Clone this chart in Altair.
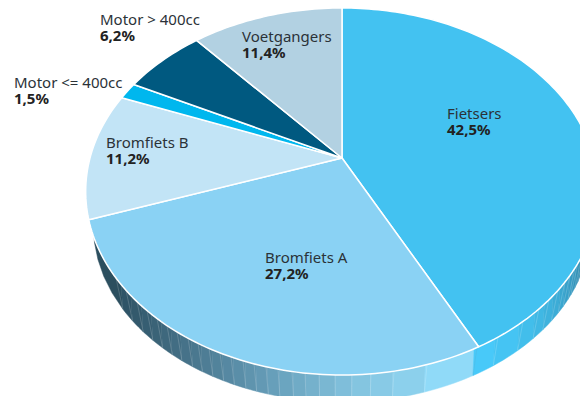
import math
import altair as alt
import numpy as np

# --- chart values -----------------------------------------------------------
categories = ["Fietsers", "Bromfiets A", "Bromfiets B", "Motor <= 400cc", "Motor > 400cc", "Voetgangers"]
shares = [42.5, 27.2, 11.2, 1.5, 6.2, 11.4]
share_labels = ["42,5%", "27,2%", "11,2%", "1,5%", "6,2%", "11,4%"]
colors = ["#43C2F1", "#8AD2F4", "#C2E4F6", "#00B7EE", "#005980", "#B2D1E2"]

# --- layout -----------------------------------------------------------------
label_x = [447, 265, 106, 14, 100, 242]
label_y = [119, 263, 148, 88, 25, 42]
LINE = 16
PAGE = 8  # page margin
CX, CY = 342, 158  # where the slices meet
A, B, K = 252, 177.4, -0.1826  # perspective of the top face
EX, EY = 191.5, 226  # centres of top and bottom outlines
SX, SY = 0.97, 0.959  # bottom outline relative to the top one

# rim facets: x on the top edge where each facet ends, and its colour
rim_stops_x = [116, 126, 137, 147, 157, 167, 177, 188, 198, 209, 220, 231, 243, 254, 266,
               278, 292, 305, 319, 335, 352, 371, 394, 427, 477,
               498, 523, 539, 549, 558, 565, 570, 575, 578, 582, 585]
rim_colors = ["#2c4f5f", "#2f5467", "#33596c", "#365e72", "#3a6377", "#3e687d", "#426d83",
              "#467289", "#4a788f", "#4e7d95", "#52839b", "#5688a2", "#5a8ea8", "#5f94ae",
              "#6399b4", "#679fba", "#6ba5c0", "#70abc6", "#75b1cc", "#7ab7d2", "#7fbeda",
              "#84c5e0", "#88cae6", "#8cd0ec", "#90daf8",
              "#48c9f9", "#45c4f3", "#42beeb", "#40b8e4", "#3eb2dd", "#3cacd6", "#3aa7d0",
              "#38a1ca", "#369cc4", "#3597be", "#3392b8", "#318db2"]
THETA_RIGHT, THETA_LEFT = 100.5, 259.5


def top(theta):
    """Page position of a point of the top face's outline; theta clockwise from 12 o'clock."""
    t = math.radians(theta)
    u, v = math.sin(t), -math.cos(t)
    w = 1 + K * v
    return CX + A * u / w, CY + B * v / w


def bottom(theta):
    x, y = top(theta)
    return CX + (x - CX) * SX, EY + (y - EX) * SY


def chart_xy(p):
    return [round(p[0] - PAGE, 2), round(p[1] - PAGE, 2)]


def feature(kind, coords, color):
    return {"type": "Feature", "properties": {"color": color},
            "geometry": {"type": kind, "coordinates": coords}}


# top face slices, from the shares
wedges = []
start = 0.0
for share, color in zip(shares, colors):
    end = start + share * 3.6
    n = max(3, int(share * 3))
    ring = [chart_xy((CX, CY))] + [chart_xy(top(a)) for a in np.linspace(start, end, n)] + [chart_xy((CX, CY))]
    wedges.append(feature("Polygon", [ring], color))
    start = end

# rim facets
grid = np.linspace(THETA_RIGHT, THETA_LEFT, 3000)
grid_x = np.array([top(a)[0] for a in grid])  # decreasing from right to left
stop_thetas = [float(np.interp(-x, -grid_x, grid)) for x in rim_stops_x]
edges = [THETA_LEFT] + stop_thetas + [THETA_RIGHT]
rim = []
stripes = []
for i, color in enumerate(rim_colors):
    a, b = edges[i], edges[i + 1]
    angles = np.linspace(a, b, 6)
    lower = [chart_xy(bottom(t)) for t in angles]
    upper = []
    for t in angles[::-1]:
        x, y = top(t)
        upper.append(chart_xy((x + (CX - x) * 0.02, y + (CY - y) * 0.02)))
    rim.append(feature("Polygon", [lower + upper + [lower[0]]], color))
for x, t in zip(rim_stops_x, stop_thetas):
    seg = [chart_xy(top(t)), chart_xy(bottom(t))]
    stripes.append(feature("LineString", seg, "#5f97b3" if x == 477 else "#ffffff"))

projection = alt.Projection(type="identity", scale=1, translate=[0, 0])


def geo(features):
    return alt.Chart(alt.InlineData(values=features, format=alt.DataFormat(type="json")))


fill = alt.Color("properties.color:N", scale=None)
stroke = alt.Stroke("properties.color:N", scale=None)

rim_layer = geo(rim).mark_geoshape(strokeWidth=0.5).encode(color=fill, stroke=stroke).project(**projection.to_dict())
stripe_layer = geo(stripes).mark_geoshape(filled=False, strokeWidth=0.7, strokeOpacity=0.25).encode(
    stroke=stroke).project(**projection.to_dict())
wedge_layer = geo(wedges).mark_geoshape(stroke="#ffffff", strokeWidth=1.5, strokeJoin="round").encode(
    color=fill).project(**projection.to_dict())

names = alt.Chart(alt.Data(values=[
    {"t": c, "x": x - PAGE, "y": y - PAGE} for c, x, y in zip(categories, label_x, label_y)
])).mark_text(font="Noto Sans", fontSize=15, align="left", baseline="alphabetic", color="#2b3238").encode(
    x=alt.X("x:Q", scale=None), y=alt.Y("y:Q", scale=None), text="t:N")
pcts = alt.Chart(alt.Data(values=[
    {"t": c, "x": x - PAGE, "y": y - PAGE + LINE} for c, x, y in zip(share_labels, label_x, label_y)
])).mark_text(font="Noto Sans", fontSize=15, fontWeight="bold", align="left", baseline="alphabetic",
              color="#222222").encode(
    x=alt.X("x:Q", scale=None), y=alt.Y("y:Q", scale=None), text="t:N")

chart = alt.layer(rim_layer, stripe_layer, wedge_layer, names, pcts).properties(
    width=572, height=388, padding=0, autosize=alt.AutoSizeParams(type="none"),
    background="#ffffff",
).configure_view(stroke=None)

chart.save("out.html", embed_options={"renderer": "svg", "actions": False})
